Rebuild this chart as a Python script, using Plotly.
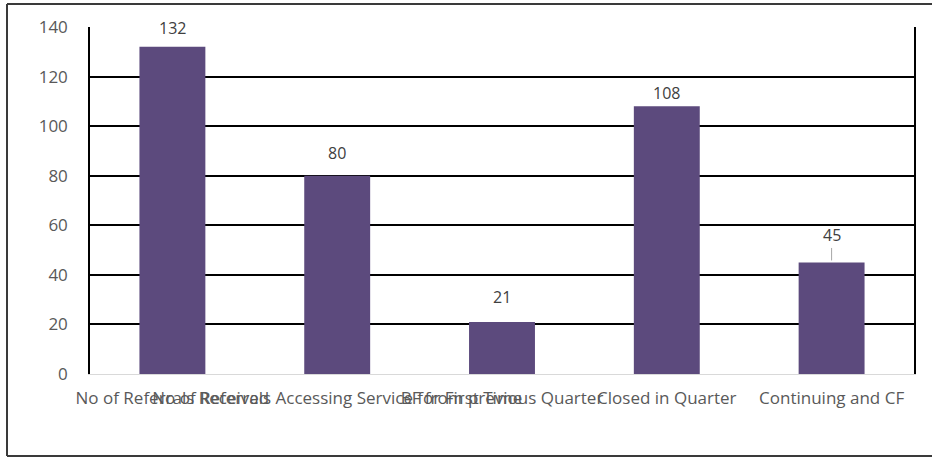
import plotly.graph_objects as go

# Quarterly referral figures
categories = [
    "No of Referrals Received",
    "No of Referrals Accessing Service for First Time",
    "BF from previous Quarter",
    "Closed in Quarter",
    "Continuing and CF",
]
values = [132, 80, 21, 108, 45]
y_ticks = [0, 20, 40, 60, 80, 100, 120, 140]

BAR_COLOR = "#5c4a7d"
TEXT_COLOR = "#595959"
FONT = "Open Sans"
FONT_SIZE = 17

# vertical gap (px) between each bar top and its value label
label_gap = [19, 23, 25, 13, 27]

fig = go.Figure(
    go.Bar(
        x=categories,
        y=values,
        marker=dict(color=BAR_COLOR, line=dict(width=0)),
        width=0.4,
        hoverinfo="x+y",
    )
)

for cat, val, gap in zip(categories, values, label_gap):
    leader = gap >= 26
    fig.add_annotation(
        x=cat, y=val, text=str(val),
        showarrow=leader, arrowhead=0, arrowwidth=1, arrowcolor="#a6a6a6",
        ax=0, ay=-gap, standoff=2,
        yshift=0 if leader else gap,
        font=dict(family=FONT, size=FONT_SIZE - 1, color="#404040"),
    )

fig.update_layout(
    width=932, height=458,
    margin=dict(l=90, r=18, t=27, b=84),
    paper_bgcolor="white", plot_bgcolor="white",
    showlegend=False,
    bargap=0.6,
    font=dict(family=FONT, size=FONT_SIZE, color=TEXT_COLOR),
    xaxis=dict(
        tickangle=0, showgrid=False, showline=True, linecolor="#d9d9d9",
        linewidth=1, ticks="", ticklabelstandoff=9,
        tickfont=dict(family=FONT, size=FONT_SIZE, color=TEXT_COLOR),
        fixedrange=True,
    ),
    yaxis=dict(
        range=[0, 140], tickvals=y_ticks, showgrid=True, gridcolor="black",
        gridwidth=1.5, zeroline=False, showline=True, mirror=True,
        linecolor="black", linewidth=1.5, ticks="", ticklabelstandoff=17,
        tickfont=dict(family=FONT, size=FONT_SIZE, color=TEXT_COLOR),
        fixedrange=True,
    ),
    shapes=[
        # outer chart frame (left, top, bottom)
        dict(type="line", xref="paper", yref="paper",
             x0=(7 - 90) / 824, x1=(935 - 90) / 824,
             y0=(458 - 4 - 84) / 347, y1=(458 - 4 - 84) / 347,
             line=dict(color="#3a3a3a", width=2)),
        dict(type="line", xref="paper", yref="paper",
             x0=(7 - 90) / 824, x1=(935 - 90) / 824,
             y0=(458 - 456 - 84) / 347, y1=(458 - 456 - 84) / 347,
             line=dict(color="#3a3a3a", width=2)),
        dict(type="line", xref="paper", yref="paper",
             x0=(7 - 90) / 824, x1=(7 - 90) / 824,
             y0=(458 - 456 - 84) / 347, y1=(458 - 4 - 84) / 347,
             line=dict(color="#3a3a3a", width=2)),
    ],
)

fig.write_html("out.html")
